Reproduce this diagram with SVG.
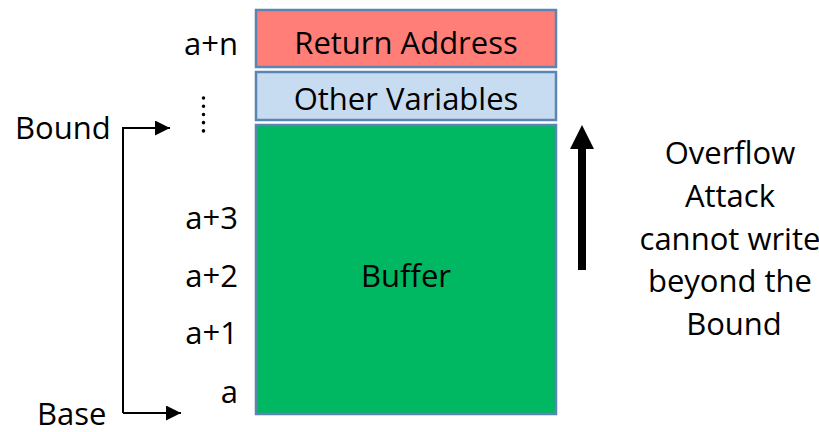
<svg xmlns="http://www.w3.org/2000/svg" width="819" height="432" viewBox="0 0 819 432">
  <style>
    .t { font-family: "Open Sans", "Liberation Sans", sans-serif; font-size: 31px; fill: #000; }
    .cell { stroke: #5B85B3; stroke-width: 2.5; }
    .ln { fill: none; stroke: #000; stroke-width: 2; }
  </style>
  <defs>
    <marker id="tri" viewBox="0 0 10 10" refX="10" refY="5" markerWidth="7.5" markerHeight="7.5" markerUnits="strokeWidth" orient="auto">
      <path d="M0,0 L10,5 L0,10 Z" fill="#000"/>
    </marker>
  </defs>
  <rect width="819" height="432" fill="#fff"/>

  <!-- stack cells -->
  <g id="return-address">
    <rect class="cell" x="256" y="10" width="300" height="57" fill="#FF7F78"/>
    <text class="t" x="406" y="54" text-anchor="middle">Return Address</text>
  </g>
  <g id="other-variables">
    <rect class="cell" x="256" y="72" width="300" height="48" fill="#C7DCF0"/>
    <text class="t" x="406" y="110" text-anchor="middle">Other Variables</text>
  </g>
  <g id="buffer">
    <rect class="cell" x="256" y="125" width="300" height="289" fill="#00B862"/>
    <text class="t" x="406" y="287" text-anchor="middle">Buffer</text>
  </g>

  <!-- address labels -->
  <g id="addresses">
    <text class="t" x="238" y="55" text-anchor="end">a+n</text>
    <text class="t" x="238" y="229" text-anchor="end">a+3</text>
    <text class="t" x="238" y="287" text-anchor="end">a+2</text>
    <text class="t" x="238" y="344" text-anchor="end">a+1</text>
    <text class="t" x="238" y="403" text-anchor="end">a</text>
    <line x1="203.5" y1="98" x2="203.5" y2="139" stroke="#000" stroke-width="3.5" stroke-dasharray="0.1 8.1" stroke-linecap="round"/>
  </g>

  <g id="bound-label"><text class="t" x="15" y="139">Bound</text></g>
  <g id="base-label"><text class="t" x="37" y="425">Base</text></g>

  <g id="attack-note">
    <text class="t" text-anchor="middle">
      <tspan x="734" y="164">Overflow</tspan>
      <tspan x="734" y="207">Attack</tspan>
      <tspan x="734" y="250">cannot write</tspan>
      <tspan x="734" y="292">beyond the</tspan>
      <tspan x="734" y="335">Bound</tspan>
    </text>
  </g>

  <!-- connectors -->
  <g id="connectors">
    <polyline class="ln" points="123,413 123,128 170,128" marker-end="url(#tri)"/>
    <polyline class="ln" points="123,413 181,413" marker-end="url(#tri)"/>
    <line x1="582" y1="270" x2="582" y2="140" stroke="#000" stroke-width="8"/>
    <path d="M570,149 L582,125 L594,149 Z" fill="#000"/>
  </g>
</svg>
